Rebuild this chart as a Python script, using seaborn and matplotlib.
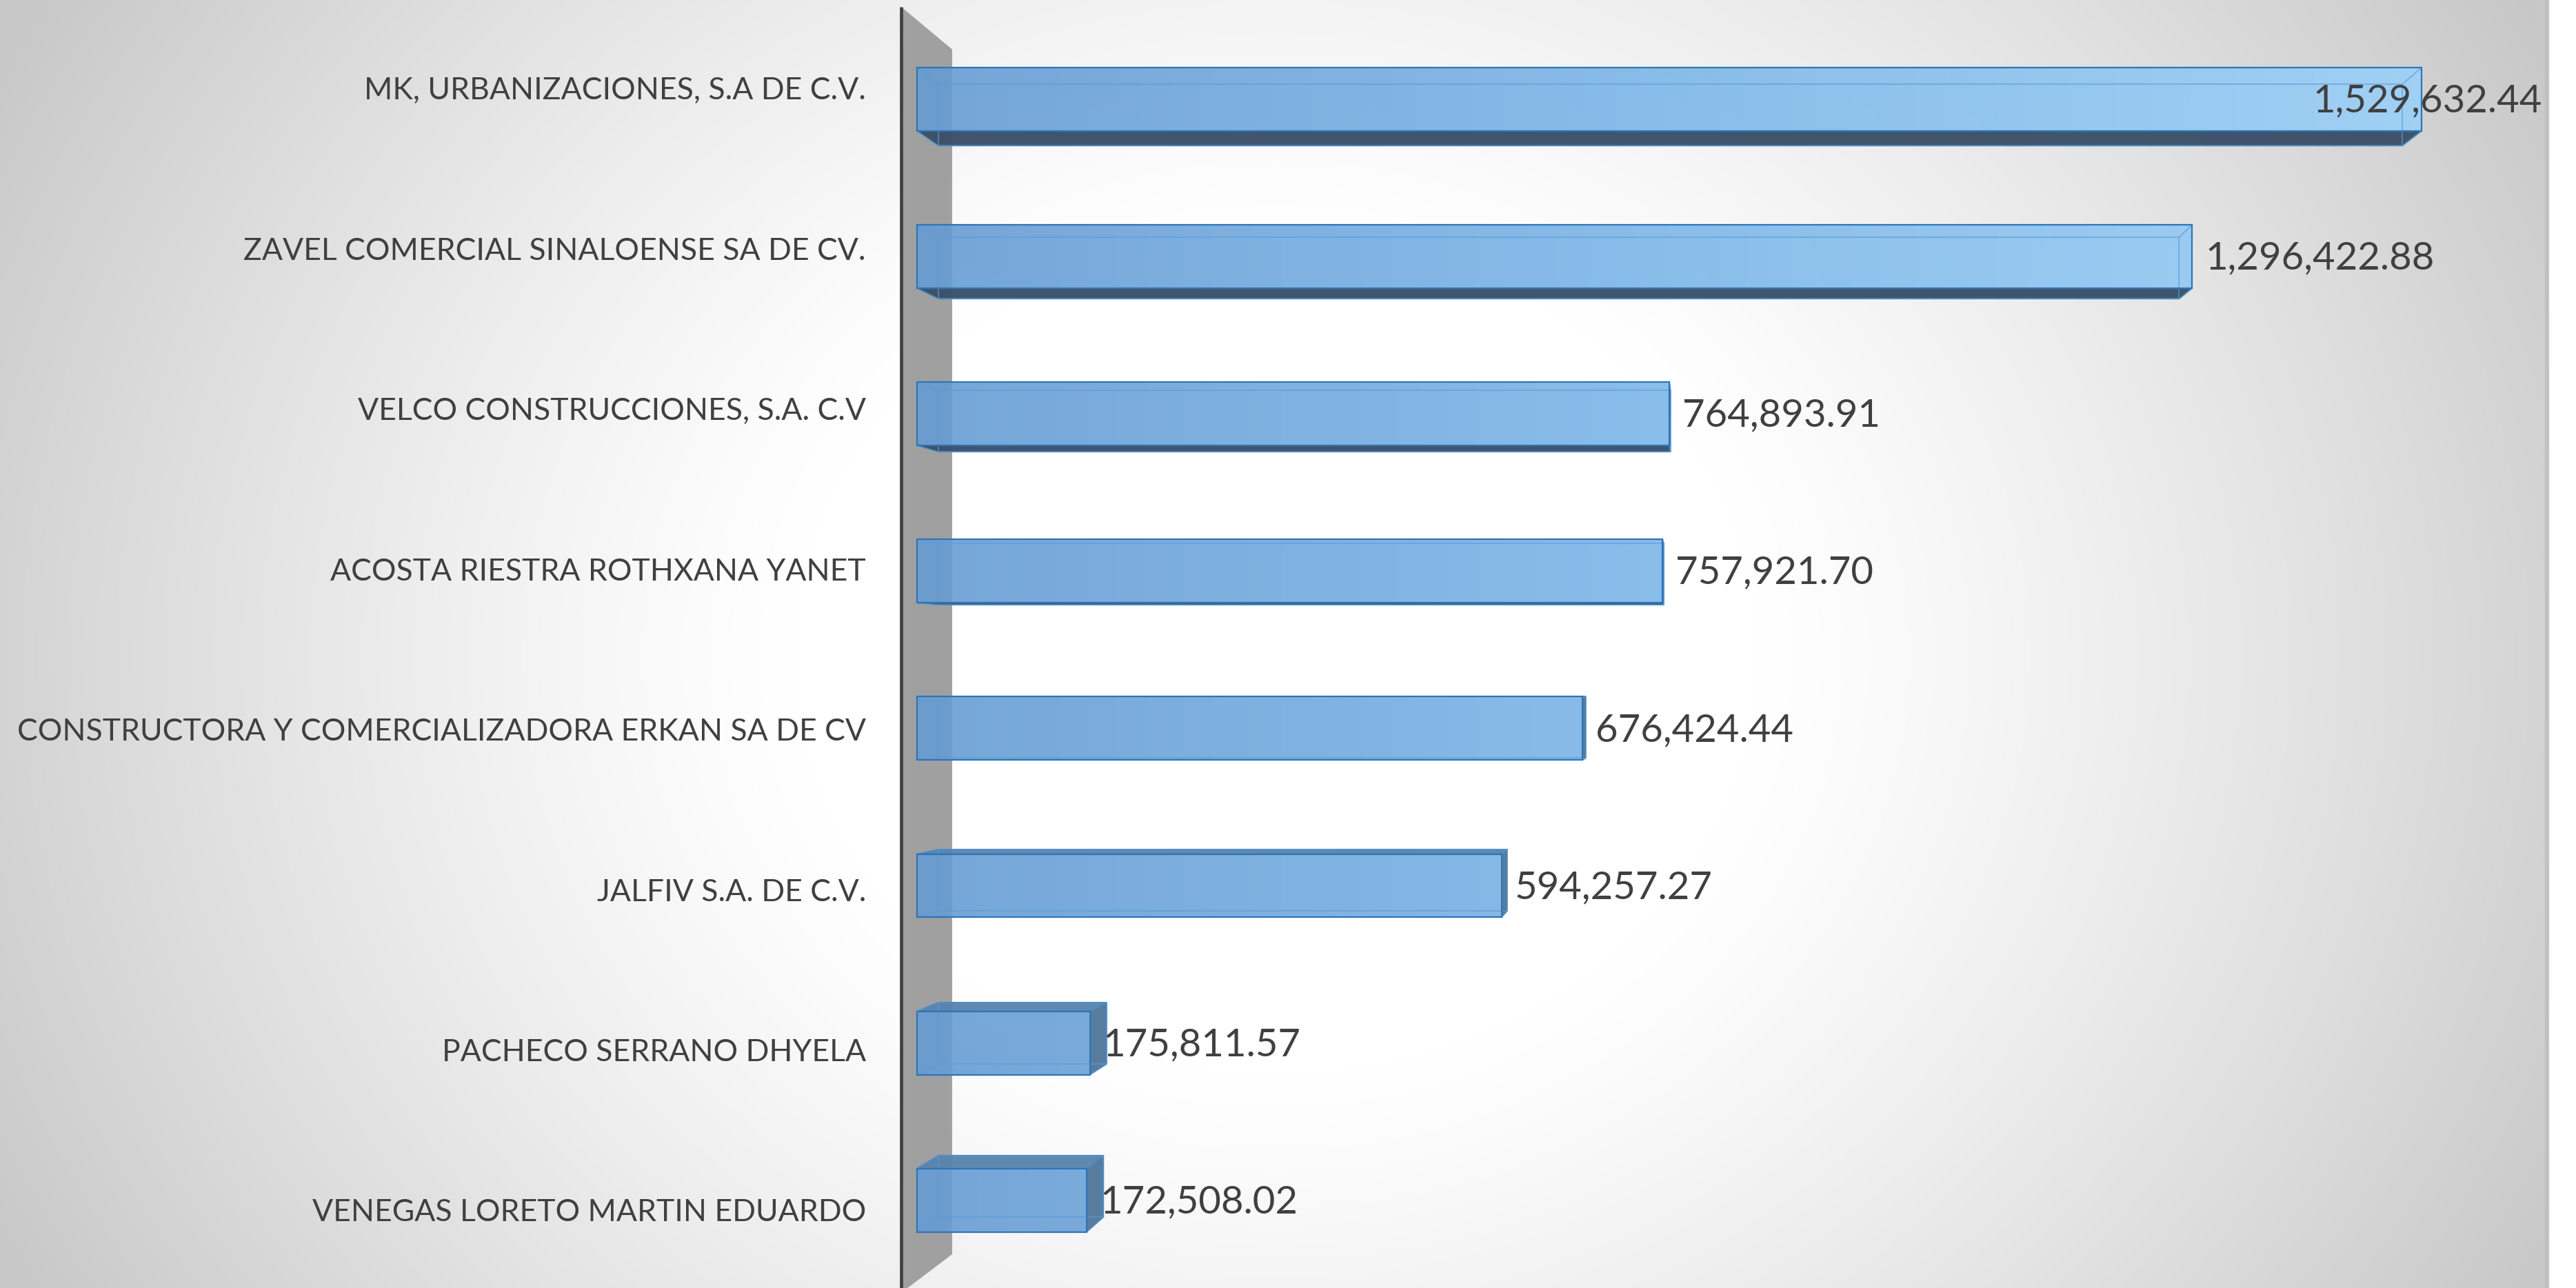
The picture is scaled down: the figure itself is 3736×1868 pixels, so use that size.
import numpy as np
import pandas as pd
import matplotlib
matplotlib.use("Agg")
import matplotlib.pyplot as plt
import seaborn as sns
from matplotlib.patches import Polygon
from matplotlib.colors import LinearSegmentedColormap

# ---------------- data ----------------
companies = [
    "MK, URBANIZACIONES, S.A DE C.V.",
    "ZAVEL COMERCIAL SINALOENSE SA DE CV.",
    "VELCO CONSTRUCCIONES, S.A. C.V",
    "ACOSTA RIESTRA ROTHXANA YANET",
    "CONSTRUCTORA Y COMERCIALIZADORA ERKAN SA DE CV",
    "JALFIV S.A. DE C.V.",
    "PACHECO SERRANO DHYELA",
    "VENEGAS LORETO MARTIN EDUARDO",
]
amounts = [1529632.44, 1296422.88, 764893.91, 757921.70,
           676424.44, 594257.27, 175811.57, 172508.02]
value_labels = [f"{v:,.2f}" for v in amounts]

# ---------------- layout (pixels) ----------------
W, H, DPI = 3737, 1868, 100
X0_PX = 1330          # pixel of value 0
SPAN_PX = 2182        # pixel length of the largest bar
Y0_PX = 144           # pixel centre of first category
STEP_PX = 228.1       # pixel distance between categories
VP_PX = (2480, 987)   # vanishing point of the 3-D view
DEPTH = 0.973         # back-face scale of bars
WALL_DEPTH = 0.937

sns.set_theme(style="white")
plt.rcParams["font.family"] = ["Lato", "DejaVu Sans"]

fig = plt.figure(figsize=(W / DPI, H / DPI), dpi=DPI)

# ---------------- background radial gradient ----------------
bg = fig.add_axes([0, 0, 1, 1], zorder=0)
yy, xx = np.mgrid[0:H:2, 0:W:2].astype(float)
r = np.sqrt((xx - 1850) ** 2 + ((yy - 950) * 1.15) ** 2)
g = 255 - 55 * np.clip((r - 700) / 1400, 0, 1) ** 1.2
img = np.dstack([g, g, g]) / 255.0
img[:, xx[0] >= 3698, :] = 1.0
img[:, (xx[0] >= 3692) & (xx[0] < 3698), :] = 192 / 255
bg.imshow(img, extent=(0, W, H, 0), aspect="auto", interpolation="bilinear")
bg.set_xlim(0, W)
bg.set_ylim(H, 0)
bg.axis("off")

# ---------------- main axes ----------------
ax = fig.add_axes([0, 0, 1, 1], zorder=1)
ax.patch.set_alpha(0)
dpp = amounts[0] / SPAN_PX   # data units per pixel (x)
cpp = 1.0 / STEP_PX          # category units per pixel (y)

df = pd.DataFrame({"company": companies, "amount": amounts})
sns.barplot(data=df, y="company", x="amount", orient="h", width=0.403,
            color="#6FA8DC", saturation=1, ax=ax)

ax.set_xlim(-X0_PX * dpp, (W - X0_PX) * dpp)
ax.set_ylim((H - Y0_PX) * cpp, -Y0_PX * cpp)
ax.axis("off")

vp = np.array([(VP_PX[0] - X0_PX) * dpp, (VP_PX[1] - Y0_PX) * cpp])


def back(p, s=DEPTH):
    p = np.asarray(p, float)
    return vp + s * (p - vp)


# wall (vertical axis plane)
wx = -23 * dpp
wt = (10 - Y0_PX) * cpp
wb = (1875 - Y0_PX) * cpp
wall = [(wx, wt), tuple(back((wx, wt), WALL_DEPTH)),
        tuple(back((wx, wb), WALL_DEPTH)), (wx, wb)]
ax.add_patch(Polygon(wall, closed=True, facecolor="#A0A0A0",
                     edgecolor="none", zorder=1))
ax.plot([wx, wx], [wt, wb], color="#404040", lw=3.4, zorder=1.5,
        solid_capstyle="butt")

# gradient for bar fronts
cmap = LinearSegmentedColormap.from_list("barfront", ["#669CD3", "#7DB7E9", "#9BD0F8"])
grad = np.linspace(0, 1, 512)[None, :]

edge_c = "#2E75B6"
for patch in ax.patches[:len(amounts)]:
    x0, y0 = patch.get_x(), patch.get_y()
    w, h = patch.get_width(), patch.get_height()
    x1, yt, yb = x0 + w, y0, y0 + h
    F = {"tl": (x0, yt), "tr": (x1, yt), "br": (x1, yb), "bl": (x0, yb)}
    B = {k: tuple(back(v)) for k, v in F.items()}

    # side faces
    if B["bl"][1] > F["bl"][1] + 1e-9:   # bottom face visible
        ax.add_patch(Polygon([F["bl"], F["br"], B["br"], B["bl"]],
                             facecolor="#3A5068", edgecolor=edge_c, lw=1.0,
                             alpha=0.97, zorder=2))
    if B["tl"][1] < F["tl"][1] - 1e-9:   # top face visible
        ax.add_patch(Polygon([F["tl"], F["tr"], B["tr"], B["tl"]],
                             facecolor="#5783AD", edgecolor=edge_c, lw=1.0,
                             alpha=0.95, zorder=2))
    if B["tr"][0] > F["tr"][0]:           # right face visible
        ax.add_patch(Polygon([F["tr"], F["br"], B["br"], B["tr"]],
                             facecolor="#4F7599", edgecolor=edge_c, lw=1.0,
                             alpha=0.95, zorder=2.1))

    # front face with gradient
    im = ax.imshow(grad, cmap=cmap, extent=(0, amounts[0], yb, yt),
                   aspect="auto", alpha=0.9, zorder=3, interpolation="bilinear")
    im.set_clip_path(patch)
    patch.set_facecolor("none")
    patch.set_edgecolor(edge_c)
    patch.set_linewidth(1.6)
    patch.set_zorder(4)

    # hidden back edges seen through the translucent front
    bx = [B["tl"][0], B["tr"][0], B["br"][0], B["bl"][0], B["tl"][0]]
    by = [B["tl"][1], B["tr"][1], B["br"][1], B["bl"][1], B["tl"][1]]
    ax.plot(bx, by, color="#5B9BD5", lw=1.2, alpha=0.7, zorder=3.5)
    for k in ("tl", "tr", "br", "bl"):
        ax.plot([F[k][0], B[k][0]], [F[k][1], B[k][1]], color="#5B9BD5",
                lw=1.2, alpha=0.7, zorder=3.5)
ax.set_xlim(-X0_PX * dpp, (W - X0_PX) * dpp)
ax.set_ylim((H - Y0_PX) * cpp, -Y0_PX * cpp)

# ---------------- text ----------------
renderer = fig.canvas.get_renderer()


def fit_size(text, target_px):
    t = ax.text(0, 0, text, fontsize=10)
    wpx = t.get_window_extent(renderer).width
    t.remove()
    return 10 * target_px / wpx


fs_cat = fit_size(max(companies, key=len), 1218)
fs_val = fit_size(value_labels[0], 334)

for i, name in enumerate(companies):
    ax.text(-74 * dpp, i + (i - 3.5) * 0.0191 + 3 * cpp, name, ha="right",
            va="center", fontsize=fs_cat, color="#404040", zorder=5)

right_lim_px = 3687
for i, (v, lbl) in enumerate(zip(amounts, value_labels)):
    t = ax.text(v + 19 * dpp, i + 3 * cpp, lbl, ha="left", va="center",
                fontsize=fs_val, color="#404040", zorder=5)
    bb = t.get_window_extent(renderer)
    if bb.x1 > right_lim_px:
        t.set_x((right_lim_px - X0_PX) * dpp)
        t.set_ha("right")

fig.savefig("out.png", dpi=DPI)
